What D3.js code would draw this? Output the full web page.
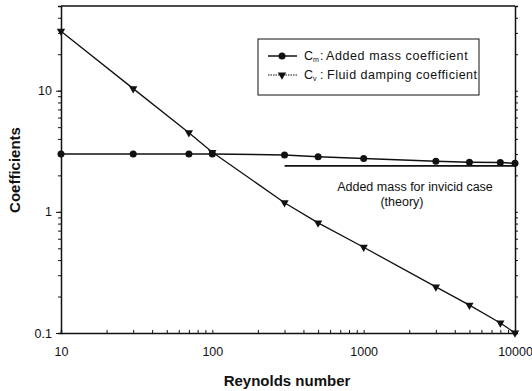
<!DOCTYPE html>
<html>
<head>
<meta charset="utf-8">
<script src="https://cdn.jsdelivr.net/npm/d3@7"></script>
<style>
  body { margin: 0; background: #fff; }
  text { font-family: "Liberation Sans", Arial, sans-serif; fill: #111; }
</style>
</head>
<body>
<svg id="vis"></svg>
<script>
// reynolds numbers and measured coefficients
const reCm = [10, 30, 70, 100, 300, 500, 1000, 3000, 5000, 8000, 10000];
const cmValues = [3.0, 3.0, 3.0, 3.0, 2.95, 2.85, 2.75, 2.62, 2.57, 2.55, 2.52];
const reCv = [10, 30, 70, 100, 300, 500, 1000, 3000, 5000, 8000, 10000];
const cvValues = [31, 10.4, 4.5, 3.1, 1.19, 0.81, 0.51, 0.24, 0.17, 0.121, 0.1];
const theoryRe = [300, 10000];
const theoryCm = 2.4;
const xTickLabels = [10, 100, 1000, 10000];
const yTickLabels = [0.1, 1, 10];

const W = 532, H = 391;
const MARGINS = {top: 6, right: 17, bottom: 58, left: 61};

const svg = d3.select("#vis").attr("width", W).attr("height", H);

const x = d3.scaleLog().domain([10, 10000]).range([MARGINS.left, W - MARGINS.right]);
const y = d3.scaleLog().domain([0.1, 50]).range([H - MARGINS.bottom, MARGINS.top]);

// minor ticks for log axes
function logTicks(lo, hi) {
    let t = [];
    for (let d = lo; d < hi; d *= 10) {
        for (let k = 1; k < 10; k++) t.push(d * k);
    }
    t.push(hi);
    return t;
}
const xMinor = logTicks(10, 10000);
const yMinor = logTicks(0.1, 10).concat([20, 30, 40, 50]);

// frame
svg.append("line").attr("x1", x(10)).attr("x2", x(10000)).attr("y1", y(50)).attr("y2", y(50))
    .attr("stroke", "#111").attr("stroke-width", 1.5);

// left axis
svg.append("g").attr("transform", "translate(" + x(10) + ",0)")
    .call(d3.axisLeft(y).tickValues(yMinor).tickSize(3).tickFormat(""));
const yAxisMajor = svg.append("g").attr("transform", "translate(" + x(10) + ",0)")
    .call(d3.axisLeft(y).tickValues(yTickLabels).tickSize(5).tickPadding(4)
        .tickFormat(d => d === 0.1 ? "0.1" : String(d)));
yAxisMajor.select(".domain").remove();

// right axis
svg.append("g").attr("transform", "translate(" + x(10000) + ",0)")
    .call(d3.axisLeft(y).tickValues(yMinor).tickSize(-3).tickFormat(""));

// bottom axis
svg.append("g").attr("transform", "translate(0," + y(0.1) + ")")
    .call(d3.axisBottom(x).tickValues(xMinor).tickSize(-3).tickFormat(""));
const xAxisMajor = svg.append("g").attr("transform", "translate(0," + y(0.1) + ")")
    .call(d3.axisBottom(x).tickValues(xTickLabels).tickSize(0).tickPadding(14)
        .tickFormat(d => String(d)));
xAxisMajor.select(".domain").remove();

svg.selectAll(".domain").attr("stroke", "#111").attr("stroke-width", 1.5);
svg.selectAll(".tick line").attr("stroke", "#111");
svg.selectAll(".tick text").attr("font-size", 12.5).attr("fill", "#111")
    .style("font-family", "Liberation Sans, Arial, sans-serif");

// axis titles
svg.append("text").attr("x", 287).attr("y", 386)
    .attr("text-anchor", "middle").attr("font-size", 15).attr("font-weight", "bold")
    .text("Reynolds number");
svg.append("text").attr("transform", "translate(20,170) rotate(-90)")
    .attr("text-anchor", "middle").attr("font-size", 15).attr("font-weight", "bold")
    .text("Coefficients");

const line = d3.line().x(d => x(d[0])).y(d => y(d[1]));

// theory line
svg.append("path").attr("d", line(theoryRe.map(r => [r, theoryCm])))
    .attr("fill", "none").attr("stroke", "#111").attr("stroke-width", 1.8);
svg.append("text").attr("x", 415).attr("y", 191).attr("text-anchor", "middle")
    .attr("font-size", 12.5).text("Added mass for invicid case");
svg.append("text").attr("x", 402).attr("y", 206).attr("text-anchor", "middle")
    .attr("font-size", 12.5).text("(theory)");

// Cm series
const cmData = reCm.map((r, i) => [r, cmValues[i]]);
svg.append("path").attr("d", line(cmData)).attr("fill", "none")
    .attr("stroke", "#111").attr("stroke-width", 1.5);
svg.selectAll(".cm").data(cmData).enter().append("circle")
    .attr("cx", d => x(d[0])).attr("cy", d => y(d[1])).attr("r", 3.5).attr("fill", "#111");

// Cv series
const cvData = reCv.map((r, i) => [r, cvValues[i]]);
const tri = d3.symbol().type(d3.symbolTriangle).size(30);
svg.append("path").attr("d", line(cvData)).attr("fill", "none")
    .attr("stroke", "#111").attr("stroke-width", 1.3);
svg.selectAll(".cv").data(cvData).enter().append("path")
    .attr("d", tri)
    .attr("transform", d => "translate(" + x(d[0]) + "," + y(d[1]) + ") rotate(180)")
    .attr("fill", "#111");

// legend
const lg = svg.append("g");
lg.append("rect").attr("x", 258).attr("y", 39).attr("width", 221).attr("height", 56)
    .attr("fill", "#fff").attr("stroke", "#111").attr("stroke-width", 1);
lg.append("line").attr("x1", 268).attr("x2", 297).attr("y1", 56).attr("y2", 56)
    .attr("stroke", "#111").attr("stroke-width", 1.5);
lg.append("circle").attr("cx", 282).attr("cy", 56).attr("r", 3.5).attr("fill", "#111");
lg.append("line").attr("x1", 268).attr("x2", 297).attr("y1", 75).attr("y2", 75)
    .attr("stroke", "#111").attr("stroke-width", 1).attr("stroke-dasharray", "1.5,1");
lg.append("path").attr("d", tri)
    .attr("transform", "translate(282,75) rotate(180)").attr("fill", "#111");

const t1 = lg.append("text").attr("x", 304).attr("y", 60).attr("font-size", 12.5);
t1.append("tspan").text("C");
t1.append("tspan").attr("font-size", 7).attr("dy", 2).text("m");
t1.append("tspan").attr("dy", -2).attr("x", 320).text(":");
t1.append("tspan").attr("x", 326).attr("letter-spacing", 0.6).text("Added mass coefficient");
const t2 = lg.append("text").attr("x", 304).attr("y", 79).attr("font-size", 12.5);
t2.append("tspan").text("C");
t2.append("tspan").attr("font-size", 7).attr("dy", 2).text("v");
t2.append("tspan").attr("dy", -2).attr("x", 320).text(":");
t2.append("tspan").attr("x", 327).attr("letter-spacing", 0.5).text("Fluid damping coefficient");
</script>
</body>
</html>
